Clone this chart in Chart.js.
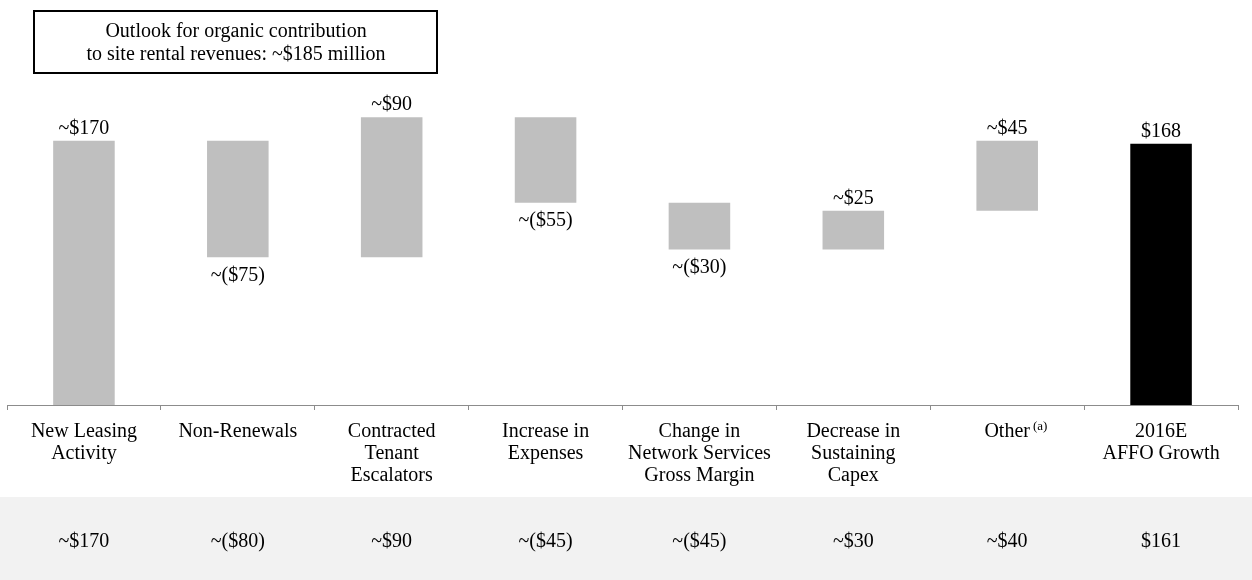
<!DOCTYPE html>
<html>
<head>
<meta charset="utf-8">
<script src="https://cdn.jsdelivr.net/npm/chart.js@4.4.1/dist/chart.umd.min.js"></script>
<style>
  html, body { margin: 0; padding: 0; background: #ffffff; }
  #wrap { width: 1252px; height: 580px; position: relative; }
</style>
</head>
<body>
<div id="wrap"><canvas id="c" width="1252" height="580"></canvas></div>
<script>
// ---- data ----
const categories = [
  ['New Leasing', 'Activity'],
  ['Non-Renewals'],
  ['Contracted', 'Tenant', 'Escalators'],
  ['Increase in', 'Expenses'],
  ['Change in', 'Network Services', 'Gross Margin'],
  ['Decrease in', 'Sustaining', 'Capex'],
  ['Other'],
  ['2016E', 'AFFO Growth']
];
const categoryNotes = ['', '', '', '', '', '', '(a)', ''];
const stepValues = [170, -75, 90, -55, -30, 25, 45];
const totalValue = 168;
const barLabels = ['~$170', '~($75)', '~$90', '~($55)', '~($30)', '~$25', '~$45', '$168'];
const rowValues = ['~$170', '~($80)', '~$90', '~($45)', '~($45)', '~$30', '~$40', '$161'];
const boxLines = ['Outlook for organic contribution', 'to site rental revenues: ~$185 million'];

// ---- build waterfall table ----
let running = 0;
const floating = stepValues.map(v => { const s = running; running += v; return [s, running]; });
floating.push([0, totalValue]);
const colors = floating.map((d, i) => i === floating.length - 1 ? '#000000' : '#bfbfbf');

const FONT = '"Liberation Serif", "Times New Roman", serif';

const decor = {
  id: 'decor',
  beforeDraw(chart) {
    const ctx = chart.ctx;
    ctx.save();
    ctx.fillStyle = '#f2f2f2';
    ctx.fillRect(0, 497, chart.width, chart.height - 497);
    ctx.restore();
  },
  afterDraw(chart) {
    const ctx = chart.ctx;
    const xs = chart.scales.x;
    const meta = chart.getDatasetMeta(0);
    ctx.save();
    // outlook box
    ctx.strokeStyle = '#000';
    ctx.lineWidth = 2;
    ctx.strokeRect(34, 11, 403, 62);
    ctx.fillStyle = '#000';
    ctx.font = '20px ' + FONT;
    ctx.textAlign = 'center';
    ctx.textBaseline = 'middle';
    ctx.fillText(boxLines[0], 236, 32);
    ctx.fillText(boxLines[1], 236, 55);

    // bar labels
    meta.data.forEach((el, i) => {
      const top = Math.min(el.y, el.base);
      const bottom = Math.max(el.y, el.base);
      const neg = i < stepValues.length && stepValues[i] < 0;
      ctx.textAlign = 'center';
      if (neg) {
        ctx.textBaseline = 'middle';
        ctx.fillText(barLabels[i], el.x, bottom + 18);
      } else {
        ctx.textBaseline = 'alphabetic';
        ctx.fillText(barLabels[i], el.x, top - 7);
      }
    });

    // category labels
    categories.forEach((lines, i) => {
      const cx = xs.getPixelForValue(i);
      ctx.textAlign = 'center';
      ctx.textBaseline = 'alphabetic';
      ctx.font = '20px ' + FONT;
      lines.forEach((t, j) => ctx.fillText(t, cx, 437 + j * 22));
      if (categoryNotes[i]) {
        const w = ctx.measureText(lines[0]).width;
        ctx.font = '13px ' + FONT;
        ctx.textAlign = 'left';
        ctx.fillText(categoryNotes[i], cx + w / 2 + 3, 430);
      }
    });

    // full-year row
    ctx.font = '20px ' + FONT;
    ctx.textAlign = 'center';
    ctx.textBaseline = 'middle';
    rowValues.forEach((t, i) => ctx.fillText(t, xs.getPixelForValue(i), 542));
    ctx.restore();
  }
};

new Chart(document.getElementById('c'), {
  type: 'bar',
  data: {
    labels: categories.map(c => c.join(' ')),
    datasets: [{
      data: floating,
      backgroundColor: colors,
      borderWidth: 0,
      categoryPercentage: 0.4,
      barPercentage: 1.0
    }]
  },
  options: {
    responsive: false,
    animation: false,
    devicePixelRatio: 1,
    layout: { padding: { top: 94, left: 7, right: 14, bottom: 0 } },
    plugins: { legend: { display: false }, tooltip: { enabled: false } },
    scales: {
      x: {
        grid: { display: true, drawOnChartArea: false, drawTicks: true, tickLength: 5, color: '#8c8c8c', offset: true },
        border: { display: true, color: '#8c8c8c', width: 1 },
        ticks: { display: false },
        afterFit(scale) { scale.height = 175; }
      },
      y: { display: false, min: 0, max: 200 }
    }
  },
  plugins: [decor]
});
</script>
</body>
</html>
